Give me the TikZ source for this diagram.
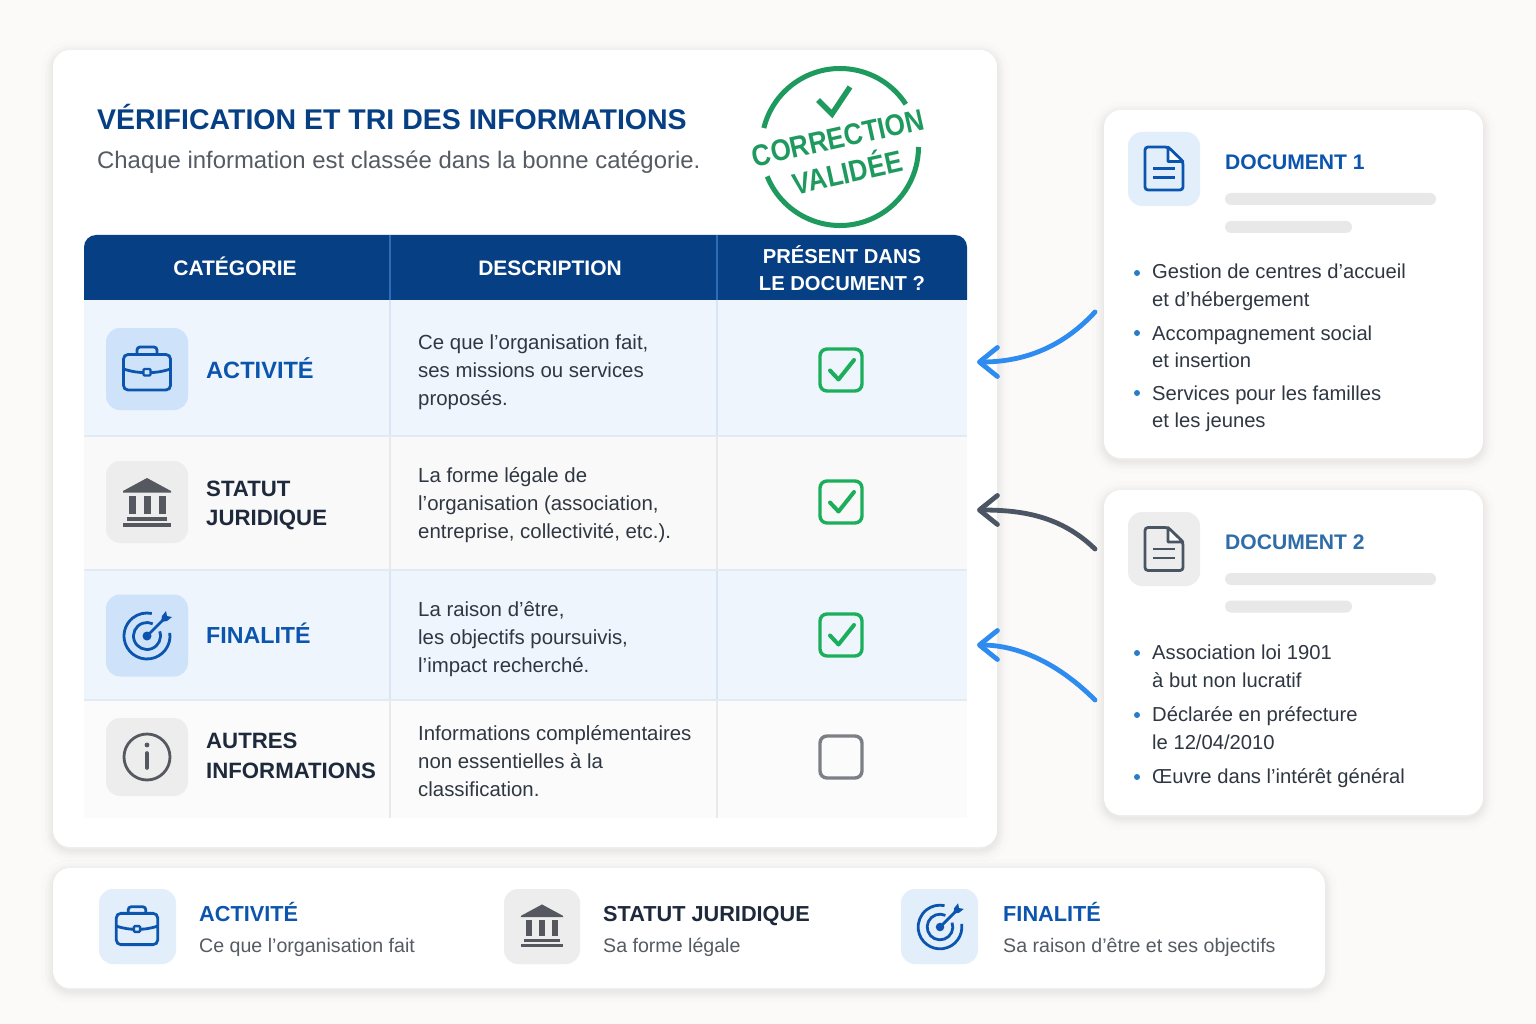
\documentclass[tikz,border=0pt]{standalone}
\usepackage{fontspec}
\setmainfont{Liberation Sans}
\usetikzlibrary{positioning,arrows.meta}
\definecolor{pagebg}{HTML}{FBFAF8}
\definecolor{navyhead}{HTML}{073F85}
\definecolor{navyline}{HTML}{2F6CB8}
\definecolor{rowblue}{HTML}{EEF5FD}
\definecolor{rowgrey}{HTML}{F9F9F9}
\definecolor{rowpale}{HTML}{FBFBFB}
\definecolor{lineblue}{HTML}{D8E5F4}
\definecolor{linesoft}{HTML}{E2EAF3}
\definecolor{linegrey}{HTML}{E9E9E9}
\definecolor{icoblue}{HTML}{CEE2FA}
\definecolor{icopale}{HTML}{E3EEFB}
\definecolor{icogrey}{HTML}{EDEDED}
\definecolor{inkblue}{HTML}{0B55AE}
\definecolor{inkmid}{HTML}{2F6DA8}
\definecolor{inkdark}{HTML}{1E293B}
\definecolor{inkgrey}{HTML}{55595F}
\definecolor{inkslate}{HTML}{4A5563}
\definecolor{inktext}{HTML}{2F3742}
\definecolor{inksub}{HTML}{555B63}
\definecolor{stampgreen}{HTML}{1F9A5F}
\definecolor{tickgreen}{HTML}{1CAF5B}
\definecolor{emptybox}{HTML}{7C8086}
\definecolor{barfill}{HTML}{E8E8E8}
\definecolor{arrowblue}{HTML}{2E8BEF}
\definecolor{arrowgrey}{HTML}{4B5563}
\definecolor{dotblue}{HTML}{2A7BC8}
\begin{document}
\begin{tikzpicture}[x=1pt,y=-1pt,
						softshadow/.style={preaction={draw=black,line width=3pt,draw opacity=.016,transform canvas={yshift=-3pt}},
							preaction={draw=black,line width=7pt,draw opacity=.016,transform canvas={yshift=-3pt}},
							preaction={draw=black,line width=11pt,draw opacity=.014,transform canvas={yshift=-3pt}},
							preaction={draw=black,line width=16pt,draw opacity=.012,transform canvas={yshift=-3pt}},
							preaction={draw=black,line width=24pt,draw opacity=.008,transform canvas={yshift=-3pt}}},
						card/.style={rectangle,fill=white,rounded corners=17pt,inner sep=0pt,outer sep=0pt,softshadow},
						rowcell/.style={rectangle,inner sep=0pt,outer sep=0pt,minimum width=883pt,anchor=north west},
						tile/.style={rectangle,rounded corners=14pt,inner sep=0pt,outer sep=0pt},
						headtext/.style={text=white,align=center,inner sep=0pt,font=\fontsize{21}{27}\selectfont\bfseries},
						catblue/.style={text=inkblue,align=left,inner sep=0pt,font=\fontsize{23.2}{29}\selectfont\bfseries},
						catdark/.style={text=inkdark,align=left,inner sep=0pt,font=\fontsize{22.2}{29.5}\selectfont\bfseries},
						desctext/.style={text=inktext,align=left,anchor=west,inner sep=0pt,font=\fontsize{20.4}{28}\selectfont},
						doctext/.style={text=inktext,align=left,anchor=west,inner sep=0pt,font=\fontsize{20.2}{27.5}\selectfont},
						doctitle/.style={anchor=west,inner sep=0pt,font=\fontsize{21.1}{27}\selectfont\bfseries},
						keyhead/.style={anchor=base west,inner sep=0pt,font=\fontsize{21.7}{27}\selectfont\bfseries},
						keytext/.style={anchor=west,inner sep=0pt,text=inksub,font=\fontsize{19.6}{27}\selectfont},
						dotmark/.style={circle,fill=dotblue,inner sep=0pt,minimum size=6pt},
						textbar/.style={rectangle,fill=barfill,rounded corners=6pt,inner sep=0pt,outer sep=0pt,minimum height=12pt,anchor=west},
						tickbox/.style={rectangle,draw=tickgreen,line width=3.4pt,rounded corners=7pt,minimum size=42pt,inner sep=0pt},
						voidbox/.style={rectangle,draw=emptybox,line width=3.4pt,rounded corners=7pt,minimum size=42pt,inner sep=0pt},
						tickmark/.style={draw=tickgreen,line width=4pt,line cap=round,line join=round},
						stamptext/.style={text=stampgreen,inner sep=0pt,rotate=12.5,font=\fontsize{30}{36}\selectfont\bfseries},
						pointer/.style={line width=4.8pt,line cap=round,line join=round,-{Straight Barb[length=18pt,width=29pt,line width=4.8pt,round]}},
						briefcase/.pic={
							\draw[pic actions,line width=2.8pt,rounded corners=4.5pt] (-23.5,-15.5) rectangle (23.5,20);
							\draw[pic actions,line width=2.8pt,rounded corners=3pt] (-10,-15.5) -- (-10,-23) -- (10,-23) -- (10,-15.5);
							\draw[pic actions,line width=2.8pt] (-23.5,-1) .. controls (-14,2) and (-8,2.5) .. (-3.5,2.5);
							\draw[pic actions,line width=2.8pt] (3.5,2.5) .. controls (8,2.5) and (14,2) .. (23.5,-1);
							\draw[pic actions,line width=2.4pt,rounded corners=1pt] (-3.5,-1) rectangle (3.5,5.5);
						},
						bankhall/.pic={
							\fill[pic actions] (0,-24.5) -- (24,-11.5) -- (24,-10) -- (-24,-10) -- (-24,-11.5) -- cycle;
							\fill[pic actions] (-18.5,-6.5) rectangle (-11.5,11.5);
							\fill[pic actions] (-3.5,-6.5) rectangle (3.5,11.5);
							\fill[pic actions] (11.5,-6.5) rectangle (18.5,11.5);
							\fill[pic actions] (-20,14.5) rectangle (20,18);
							\fill[pic actions] (-24,20.5) rectangle (24,24);
						},
						targetring/.pic={
							\draw[pic actions,fill=none,line width=2.8pt] (-8:23) arc[start angle=-8,end angle=282,radius=23];
							\draw[pic actions,fill=none,line width=2.8pt] (-20:13.5) arc[start angle=-20,end angle=295,radius=13.5];
							\fill[pic actions,draw=none] (0,0) circle[radius=4.5];
							\draw[pic actions,fill=none,line width=2.8pt] (0,0) -- (16,-16);
							\fill[pic actions,draw=none] (14,-14) -- (15,-20) -- (19,-25) -- (20,-20) -- (25,-19) -- (20,-15) -- cycle;
						},
						infoglyph/.pic={
							\draw[pic actions,fill=none,line width=2.8pt] (0,0) circle[radius=23];
							\fill[pic actions,draw=none] (0,-12) circle[radius=2.4];
							\draw[pic actions,fill=none,line width=3.6pt,line cap=round] (0,-4) -- (0,11);
						},
						docsheet/.pic={
							\draw[pic actions,line width=2.8pt,rounded corners=3pt] (-19,-21.5) -- (4,-21.5) -- (19,-7) -- (19,21.5) -- (-19,21.5) -- cycle;
							\draw[pic actions,line width=2.6pt,line join=round,fill=white] (4,-21.5) -- (4,-7) -- (19,-7) -- cycle;
							\draw[pic actions,line width=2.6pt] (-11,0) -- (11,0);
							\draw[pic actions,line width=2.6pt] (-11,9) -- (11,9);
						}]

		\useasboundingbox (0,0) rectangle (1536,1024);
		\fill[pagebg] (0,0) rectangle (1536,1024);

		\node[card,minimum width=944pt,minimum height=797pt]	(maincard)	at (525,448.5)	{};
		\node[card,minimum width=379pt,minimum height=348pt]	(doc1)		at (1293.5,284)	{};
		\node[card,minimum width=379pt,minimum height=325pt]	(doc2)		at (1293.5,652.5)	{};
		\node[card,minimum width=1272pt,minimum height=120pt]	(keybar)	at (689,928)	{};

		\node[anchor=west,inner sep=0pt,text=navyhead,font=\fontsize{28.5}{34}\selectfont\bfseries] (title) at (97,117.5) {VÉRIFICATION ET TRI DES INFORMATIONS};
		\node[anchor=west,inner sep=0pt,text=inksub,font=\fontsize{23.9}{30}\selectfont] (subtitle) at (97,162) {Chaque information est classée dans la bonne catégorie.};

		\draw[stampgreen,line width=5pt] (840,147) ++(-33:78.5) arc[start angle=-33,end angle=-166,radius=78.5];
		\draw[stampgreen,line width=5pt] (840,147) ++(-202:78.5) arc[start angle=-202,end angle=-360,radius=78.5];
		\draw[stampgreen,line width=5.5pt] (818,100) -- (832,114) -- (850,87);
		\node[stamptext]	(stamp1)	at (838,138)	{\scalebox{.87}[1]{CORRECTION}};
		\node[stamptext]	(stamp2)	at (847,170)	{\scalebox{.87}[1]{VALIDÉE}};

		\fill[navyhead] (84,300) [rounded corners=12pt] -- (84,235) -- (967,235) [sharp corners] -- (967,300) -- cycle;
		\node[rowcell,fill=rowblue,minimum height=135pt]			(row1)	at (84,300)	{};
		\node[rowcell,fill=rowgrey,minimum height=133pt,below=1pt of row1.south west,anchor=north west]	(row2)	{};
		\node[rowcell,fill=rowblue,minimum height=129pt,below=1pt of row2.south west,anchor=north west]	(row3)	{};
		\node[rowcell,fill=rowpale,minimum height=118pt,below=1pt of row3.south west,anchor=north west]	(row4)	{};

		\draw[navyline,line width=2pt] (389.5,235) -- (389.5,300);
		\draw[navyline,line width=2pt] (716.5,235) -- (716.5,300);
		\draw[lineblue,line width=2pt] (389.5,300) -- (389.5,435);
		\draw[lineblue,line width=2pt] (716.5,300) -- (716.5,435);
		\draw[linegrey,line width=2pt] (389.5,436) -- (389.5,569);
		\draw[linegrey,line width=2pt] (716.5,436) -- (716.5,569);
		\draw[lineblue,line width=2pt] (389.5,570) -- (389.5,699);
		\draw[lineblue,line width=2pt] (716.5,570) -- (716.5,699);
		\draw[linegrey,line width=2pt] (389.5,700) -- (389.5,818);
		\draw[linegrey,line width=2pt] (716.5,700) -- (716.5,818);
		\draw[linesoft,line width=2pt] (84,435.5) -- (967,435.5);
		\draw[linesoft,line width=2pt] (84,569.5) -- (967,569.5);
		\draw[linesoft,line width=2pt] (84,699.5) -- (967,699.5);

		\node[headtext]	(head1)	at (235,266.5)	{CATÉGORIE};
		\node[headtext]	(head2)	at (550,268)	{DESCRIPTION};
		\node[headtext,font=\fontsize{20.2}{27}\selectfont\bfseries]	(head3)	at (842,268)	{PRÉSENT DANS\\LE DOCUMENT ?};

		\node[tile,fill=icoblue,minimum width=82pt,minimum height=82pt]	(tile1)	at (147,369)	{};
		\node[tile,fill=icogrey,minimum width=82pt,minimum height=82pt]	(tile2)	at (147,502)	{};
		\node[tile,fill=icoblue,minimum width=82pt,minimum height=82pt]	(tile3)	at (147,635.5)	{};
		\node[tile,fill=icogrey,minimum width=82pt,minimum height=78pt]	(tile4)	at (147,757)	{};

		\pic[draw=inkblue]		(case1)		at (147,370)	{briefcase};
		\pic[fill=inkgrey]		(bank1)		at (147,502.5)	{bankhall};
		\pic[draw=inkblue,fill=inkblue]	(aim1)	at (147,636)	{targetring};
		\pic[draw=inkgrey,fill=inkgrey]	(info1)	at (147,757)	{infoglyph};

		\node[catblue,right=18pt of tile1,yshift=1pt,font=\fontsize{23.6}{29}\selectfont\bfseries]	(cat1)	{ACTIVITÉ};
		\node[catdark,right=18pt of tile2,yshift=-3.5pt]	(cat2)	{STATUT\\JURIDIQUE};
		\node[catblue,right=18pt of tile3,yshift=2pt]	(cat3)	{FINALITÉ};
		\node[catdark,right=18pt of tile4,yshift=1pt]	(cat4)	{AUTRES\\INFORMATIONS};

		\node[desctext]	(desc1)	at (418,372)	{Ce que l’organisation fait,\\ses missions ou services\\proposés.};
		\node[desctext]	(desc2)	at (418,505)	{La forme légale de\\l’organisation (association,\\entreprise, collectivité, etc.).};
		\node[desctext]	(desc3)	at (418,639)	{La raison d’être,\\les objectifs poursuivis,\\l’impact recherché.};
		\node[desctext]	(desc4)	at (418,761)	{Informations complémentaires\\non essentielles à la\\classification.};

		\node[tickbox]	(box1)	at (841,370)	{};
		\node[tickbox]	(box2)	at (841,502)	{};
		\node[tickbox]	(box3)	at (841,635)	{};
		\node[voidbox]	(box4)	at (841,757)	{};
		\draw[tickmark] (830,370.5) -- (838.5,379.5) -- (854,360);
		\draw[tickmark] (830,502.5) -- (838.5,511.5) -- (854,492);
		\draw[tickmark] (830,635.5) -- (838.5,644.5) -- (854,625);

		\node[tile,fill=icopale,minimum width=72pt,minimum height=74pt]	(doctile1)	at (1164,169)	{};
		\node[tile,fill=icogrey,minimum width=72pt,minimum height=74pt]	(doctile2)	at (1164,549)	{};
		\pic[draw=inkblue]	(sheet1)	at (1164,168.5)	{docsheet};
		\pic[draw=inkslate]	(sheet2)	at (1164,549)	{docsheet};
		\node[doctitle,text=inkblue]	(doctitle1)	at (1225,162)	{DOCUMENT 1};
		\node[doctitle,text=inkmid]	(doctitle2)	at (1225,542)	{DOCUMENT 2};

		\node[textbar,minimum width=211pt]	(bar11)	at (1225,199)	{};
		\node[textbar,minimum width=127pt]	(bar12)	at (1225,227)	{};
		\node[textbar,minimum width=211pt]	(bar21)	at (1225,579)	{};
		\node[textbar,minimum width=127pt]	(bar22)	at (1225,606.5)	{};

		\node[dotmark]	(dot11)	at (1137,273)	{};
		\node[dotmark]	(dot12)	at (1137,333)	{};
		\node[dotmark]	(dot13)	at (1137,393)	{};
		\node[dotmark]	(dot21)	at (1137,653)	{};
		\node[dotmark]	(dot22)	at (1137,715)	{};
		\node[dotmark]	(dot23)	at (1137,777)	{};
		\node[doctext]	(item11)	at (1152,287.5)	{Gestion de centres d’accueil\\et d’hébergement};
		\node[doctext]	(item12)	at (1152,347)	{Accompagnement social\\et insertion};
		\node[doctext]	(item13)	at (1152,409)	{Services pour les familles\\et les jeunes};
		\node[doctext]	(item21)	at (1152,666.5)	{Association loi 1901\\à but non lucratif};
		\node[doctext]	(item22)	at (1152,728)	{Déclarée en préfecture\\le 12/04/2010};
		\node[doctext]	(item23)	at (1152,778)	{Œuvre dans l’intérêt général};

		\coordinate (from1)	at (1095,312);
		\coordinate (to1)	at (977,362);
		\coordinate (from2)	at (1095,549);
		\coordinate (to2)	at (977,510);
		\coordinate (from3)	at (1095,700);
		\coordinate (to3)	at (977,645);
		\draw[pointer,arrowblue] (from1) .. controls (1060,350) and (1020,362) .. (to1);
		\draw[pointer,arrowgrey] (from2) .. controls (1060,515) and (1020,510) .. (to2);
		\draw[pointer,arrowblue] (from3) .. controls (1060,665) and (1020,645) .. (to3);

		\node[tile,fill=icopale,minimum width=77pt,minimum height=75pt]	(keytile1)	at (137.5,926.5)	{};
		\node[tile,fill=icogrey,minimum width=76pt,minimum height=75pt]	(keytile2)	at (542,926.5)	{};
		\node[tile,fill=icopale,minimum width=77pt,minimum height=75pt]	(keytile3)	at (939.5,926.5)	{};
		\pic[draw=inkblue,scale=.88]	(case2)	at (137,927)	{briefcase};
		\pic[fill=inkgrey,scale=.88]	(bank2)	at (542,926)	{bankhall};
		\pic[draw=inkblue,fill=inkblue,scale=.95]	(aim2)	at (940,927)	{targetring};

		\node[keyhead,text=inkblue]	(keyhead1)	at (199,921)	{ACTIVITÉ};
		\node[keytext]				(keytext1)	at (199,947)	{Ce que l’organisation fait};
		\node[keyhead,text=inkdark]	(keyhead2)	at (603,921)	{STATUT JURIDIQUE};
		\node[keytext]				(keytext2)	at (603,947)	{Sa forme légale};
		\node[keyhead,text=inkblue]	(keyhead3)	at (1003,921)	{FINALITÉ};
		\node[keytext]				(keytext3)	at (1003,947)	{Sa raison d’être et ses objectifs};

	\end{tikzpicture}
\end{document}
